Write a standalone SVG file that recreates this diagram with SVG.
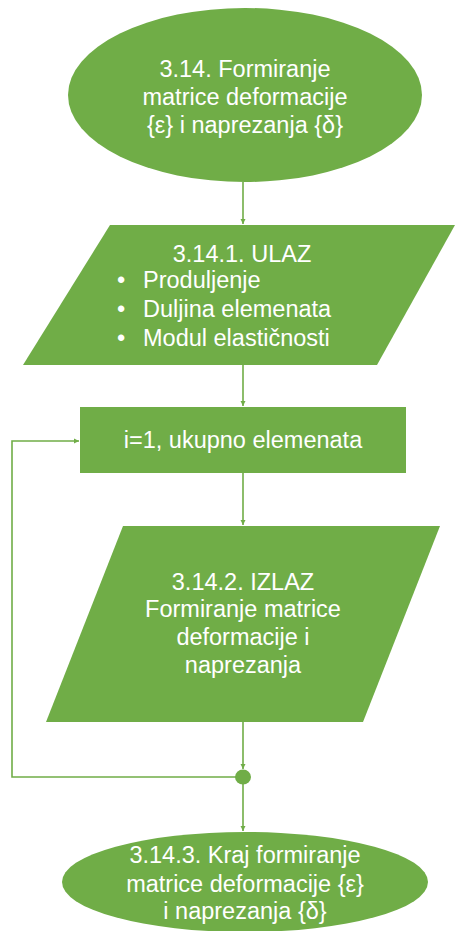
<svg xmlns="http://www.w3.org/2000/svg" width="455" height="931" viewBox="0 0 455 931">
<defs>
<style>
.shape{fill:#70AD47;}
.t{font-family:"Liberation Sans",Arial,sans-serif;font-size:23.5px;fill:#FFFFFF;text-anchor:middle;}
.tl{font-family:"Liberation Sans",Arial,sans-serif;font-size:23.5px;fill:#FFFFFF;}
.c{stroke:#70AD47;stroke-width:1.6;fill:none;}
</style>
<marker id="arr" viewBox="0 0 10 10" refX="10" refY="5" markerWidth="3.2" markerHeight="3.2" orient="auto" markerUnits="strokeWidth">
<path d="M0,0 L10,5 L0,10 Z" fill="#70AD47"/>
</marker>
</defs>
<rect width="455" height="931" fill="#FFFFFF"/>
<g id="connectors">
<line class="c" x1="243" y1="182" x2="243" y2="224" marker-end="url(#arr)"/>
<line class="c" x1="243" y1="365" x2="243" y2="406" marker-end="url(#arr)"/>
<line class="c" x1="243" y1="473" x2="243" y2="525" marker-end="url(#arr)"/>
<line class="c" x1="243" y1="722" x2="243" y2="769" marker-end="url(#arr)"/>
<line class="c" x1="243" y1="784" x2="243" y2="831" marker-end="url(#arr)"/>
<polyline class="c" points="236,777 12,777 12,441 79,441" marker-end="url(#arr)"/>
</g>
<g id="start">
<ellipse class="shape" cx="245" cy="95" rx="177" ry="87"/>
<text class="t" x="245" y="77">3.14. Formiranje</text>
<text class="t" x="245" y="105">matrice deformacije</text>
<text class="t" x="245" y="133">{ε} i naprezanja {δ}</text>
</g>
<g id="input">
<polygon class="shape" points="110,225 455,225 377,365 23,365"/>
<text class="t" x="242" y="262">3.14.1. ULAZ</text>
<text class="tl" x="117" y="288">•</text>
<text class="tl" x="143" y="288">Produljenje</text>
<text class="tl" x="117" y="317">•</text>
<text class="tl" x="143" y="317">Duljina elemenata</text>
<text class="tl" x="117" y="346">•</text>
<text class="tl" x="143" y="346">Modul elastičnosti</text>
</g>
<g id="loop">
<rect class="shape" x="80" y="407" width="326" height="66"/>
<text class="t" x="243" y="448">i=1, ukupno elemenata</text>
</g>
<g id="output">
<polygon class="shape" points="123,526 440,526 363,722 46,722"/>
<text class="t" x="243" y="590">3.14.2. IZLAZ</text>
<text class="t" x="243" y="617">Formiranje matrice</text>
<text class="t" x="243" y="645">deformacije i</text>
<text class="t" x="243" y="673">naprezanja</text>
</g>
<g id="junction">
<ellipse class="shape" cx="243" cy="777" rx="8" ry="7.5"/>
</g>
<g id="end">
<ellipse class="shape" cx="245" cy="882" rx="183" ry="50"/>
<text class="t" x="245" y="863">3.14.3. Kraj formiranje</text>
<text class="t" x="245" y="892">matrice deformacije {ε}</text>
<text class="t" x="245" y="919">i naprezanja {δ}</text>
</g>
</svg>
